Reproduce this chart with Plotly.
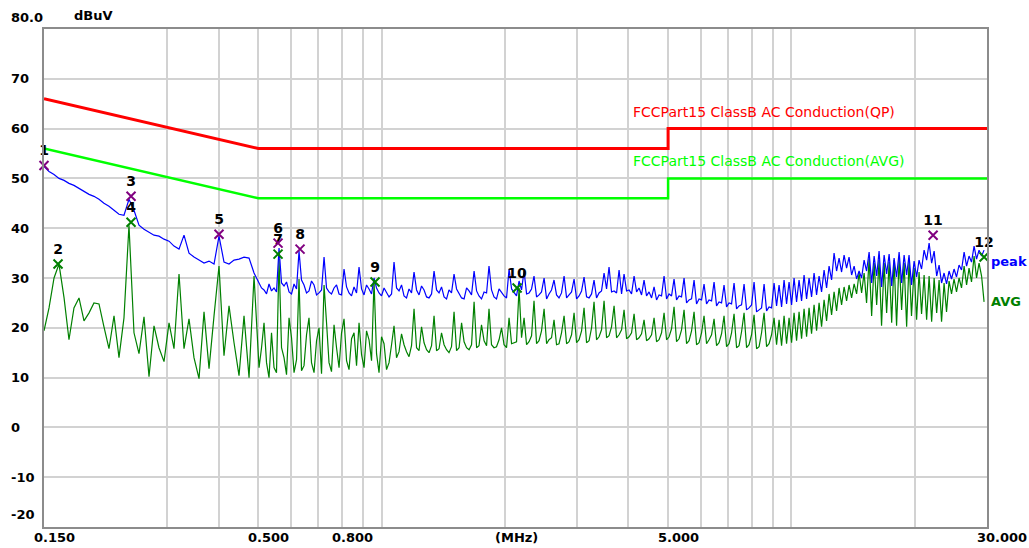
import plotly.graph_objects as go
import math

# ---------------- data ----------------
# main sweep samples (MHz) with peak / average readings (dBuV)
freq_mhz = [
    0.1500, 0.1543, 0.1587, 0.1632, 0.1679, 0.1726, 0.1775, 0.1826, 0.1878, 0.1932,
    0.1986, 0.2043, 0.2101, 0.2161, 0.2223, 0.2286, 0.2351, 0.2418, 0.2487, 0.2558,
    0.2631, 0.2706, 0.2783, 0.2862, 0.2944, 0.3028, 0.3114, 0.3203, 0.3294, 0.3388,
    0.3484, 0.3584, 0.3686, 0.3791, 0.3899, 0.4010, 0.4124, 0.4242, 0.4363, 0.4487,
    0.4615, 0.4747, 0.4882, 0.5021, 0.5164, 0.5311, 0.5462, 0.5618, 0.5778, 0.5943,
    0.6112, 0.6286, 0.6465, 0.6649, 0.6839, 0.7034, 0.7235, 0.7440, 0.7653, 0.7871,
    0.8095, 0.8326, 0.8563, 0.8807, 0.9058, 0.9316, 0.9581, 0.9854, 1.0135, 1.0424,
    1.0720, 1.1026, 1.1340, 1.1663, 1.1996, 1.2338, 1.2690, 1.3051, 1.3423, 1.3805,
    1.420, 1.460, 1.502, 1.545, 1.589, 1.634, 1.681, 1.728, 1.778, 1.828,
    1.880, 1.934, 1.989, 2.046, 2.104, 2.164, 2.226, 2.289, 2.354, 2.421,
    2.491, 2.561, 2.634, 2.709, 2.787, 2.866, 2.948, 3.032, 3.118, 3.207,
    3.298, 3.392, 3.489, 3.588, 3.691, 3.796, 3.904, 4.015, 4.130, 4.247,
    4.368, 4.493, 4.621, 4.752, 4.888, 5.027, 5.170, 5.317, 5.469, 5.625,
    5.785, 5.950, 6.119, 6.294, 6.473, 6.657, 6.847, 7.042, 7.243, 7.449,
    7.662, 7.880, 8.105, 8.336, 8.574, 8.817, 9.069, 9.327, 9.593, 9.866,
    10.147, 10.436, 10.734, 11.039, 11.354, 11.678, 12.011, 12.353, 12.705, 13.067,
    13.44, 13.82, 14.22, 14.62, 15.04, 15.47, 15.91, 16.36, 16.83, 17.31,
    17.80, 18.31, 18.83, 19.36, 19.92, 20.48, 21.07, 21.67, 22.29, 22.92,
    23.57, 24.24, 24.93, 25.64, 26.38, 27.12, 27.90, 28.69, 29.51,
]

peak_dbuv = [
    52.4, 51.4, 50.8, 50.0, 49.6, 49.0, 48.6, 48.0, 47.4, 46.8,
    46.4, 45.8, 45.0, 44.4, 43.6, 42.8, 42.6, 45.8, 43.6, 40.6,
    39.8, 39.2, 38.6, 38.4, 37.8, 37.4, 36.4, 35.8, 38.6, 35.0,
    34.2, 33.6, 33.0, 33.4, 32.8, 38.4, 33.2, 32.8, 33.6, 33.8,
    34.2, 34.0, 31.0, 29.0, 27.6, 28.8, 28.0, 36.0, 28.4, 27.2,
    28.8, 35.4, 28.6, 27.4, 28.6, 27.0, 34.2, 27.2, 28.0, 26.8,
    31.8, 27.0, 28.2, 32.2, 26.6, 27.8, 30.0, 27.0, 28.0, 26.2,
    33.2, 27.4, 26.4, 27.8, 31.2, 26.6, 27.6, 26.0, 31.4, 27.0,
    26.2, 27.6, 30.8, 26.8, 25.8, 27.4, 31.4, 26.4, 27.2, 32.4,
    26.2, 27.8, 26.4, 31.8, 27.0, 29.4, 31.4, 27.0, 30.4, 26.6,
    30.0, 26.8, 29.6, 26.0, 30.4, 26.6, 29.8, 26.4, 30.2, 26.0,
    29.6, 27.0, 31.0, 32.2, 27.4, 31.6, 30.8, 27.6, 30.4, 28.0,
    29.6, 27.2, 28.2, 26.6, 30.4, 26.8, 29.8, 26.4, 30.0, 25.6,
    29.6, 25.8, 28.8, 25.6, 29.2, 25.2, 28.6, 25.0, 29.0, 24.4,
    28.8, 24.0, 29.2, 23.6, 28.8, 24.2, 29.0, 28.6, 29.6, 29.2,
    30.0, 29.6, 30.6, 30.0, 31.0, 30.4, 31.6, 32.4, 35.0, 34.0,
    34.6, 34.2, 32.4, 31.4, 33.6, 35.2, 34.4, 35.4, 34.6, 34.8,
    34.0, 35.2, 34.6, 34.6, 33.4, 33.6, 35.6, 37.0, 35.4, 32.6,
    31.0, 31.4, 31.8, 32.6, 35.2, 34.4, 36.4, 35.6, 35.6,
]

avg_dbuv = [
    19.4, 24.0, 30.0, 32.8, 26.0, 17.6, 24.0, 26.0, 21.4, 23.0,
    25.0, 24.8, 20.2, 15.8, 22.4, 14.0, 22.0, 40.6, 19.0, 14.8,
    22.2, 10.2, 20.4, 16.0, 13.2, 21.0, 15.8, 30.8, 15.8, 21.8,
    14.0, 9.8, 23.2, 11.8, 22.4, 32.4, 14.4, 24.4, 17.0, 10.4,
    22.4, 10.0, 30.4, 12.0, 21.0, 10.0, 12.0, 33.8, 14.0, 22.0,
    11.0, 29.8, 12.4, 22.0, 11.0, 20.0, 28.6, 13.0, 20.6, 12.0,
    21.8, 11.6, 19.0, 21.0, 12.0, 17.6, 29.4, 11.0, 16.8, 13.0,
    20.4, 15.2, 16.6, 14.2, 23.8, 15.4, 17.0, 15.0, 22.4, 15.8,
    16.6, 15.0, 23.2, 16.0, 17.2, 15.6, 25.2, 16.4, 17.4, 23.8,
    16.0, 17.6, 16.6, 22.0, 17.0, 28.0, 22.0, 17.2, 25.4, 17.4,
    23.8, 17.6, 21.6, 16.8, 22.4, 17.2, 23.0, 17.6, 24.0, 17.4,
    25.2, 18.2, 25.4, 18.4, 24.4, 18.6, 23.6, 18.2, 22.8, 18.0,
    21.6, 17.8, 22.0, 17.6, 23.0, 18.2, 24.2, 17.8, 23.6, 17.4,
    23.2, 17.0, 22.4, 17.6, 21.8, 17.0, 22.4, 16.8, 22.8, 16.4,
    23.0, 16.6, 22.6, 16.2, 23.0, 16.8, 22.0, 21.6, 22.4, 22.0,
    23.0, 23.2, 23.8, 24.0, 24.6, 25.0, 25.6, 26.8, 27.2, 28.0,
    28.2, 28.6, 28.8, 31.0, 31.0, 33.8, 33.0, 33.6, 33.0, 33.2,
    33.6, 33.8, 33.0, 33.4, 32.0, 31.2, 30.6, 30.4, 30.0, 29.6,
    29.0, 29.4, 29.8, 30.0, 32.4, 32.0, 34.4, 33.0, 25.2,
]

# extra in-between sweep samples (0.5 - 30 MHz)
freq_mid_mhz = [
    0.5092, 0.5237, 0.5386, 0.5539, 0.5698, 0.5860, 0.6027, 0.6199, 0.6375, 0.6557,
    0.6743, 0.6936, 0.7134, 0.7337, 0.7545, 0.7761, 0.7982, 0.8210, 0.8444, 0.8684,
    0.8932, 0.9186, 0.9448, 0.9717, 0.9993, 1.0279, 1.0572, 1.0872, 1.1182, 1.1501,
    1.1828, 1.2166, 1.2513, 1.2870, 1.3236, 1.3613, 1.4000, 1.4401, 1.4807, 1.5233,
    1.5669, 1.6115, 1.6571, 1.7048, 1.7525, 1.8032, 1.8539, 1.9066, 1.9614, 2.0172,
    2.0750, 2.1338, 2.1947, 2.2575, 2.3215, 2.3878, 2.4553, 2.5263, 2.5973, 2.6713,
    2.7474, 2.8265, 2.9066, 2.9897, 3.0749, 3.1622, 3.2524, 3.3447, 3.4400, 3.5384,
    3.6388, 3.7433, 3.8498, 3.9593, 4.0719, 4.1885, 4.3071, 4.4298, 4.5565, 4.6862,
    4.8193, 4.9572, 5.0982, 5.2432, 5.3923, 5.5464, 5.7046, 5.8668, 6.0342, 6.2056,
    6.3831, 6.5646, 6.7513, 6.9440, 7.1418, 7.3456, 7.5546, 7.7705, 7.9919, 8.2198,
    8.4535, 8.6952, 8.9419,
    9.197, 9.459, 9.729, 10.006, 10.291, 10.584, 10.886, 11.195, 11.515, 11.843,
    12.181, 12.528, 12.885, 13.252, 13.63, 14.02, 14.42, 14.83, 15.25, 15.69,
    16.14, 16.59, 17.07, 17.56, 18.05, 18.57, 19.10, 19.63, 20.20, 20.77,
    21.37, 21.98, 22.61, 23.24, 23.90, 24.58, 25.28, 26.00, 26.75, 27.50,
    28.29, 29.10,
]

peak_mid_dbuv = [
    28.0, 26.8, 27.4, 27.2, 29.0, 29.2, 26.8, 27.8, 29.6, 27.0,
    29.4, 26.6, 27.6, 28.0, 26.8, 28.6, 26.6, 28.2, 26.4, 27.0,
    27.8, 28.6, 26.8, 28.0, 26.4, 27.2, 26.8, 28.0, 28.6, 26.0,
    27.0, 27.6, 28.4, 26.2, 26.8, 27.6, 28.2, 25.8, 27.0, 27.8,
    26.0, 28.0, 26.6, 27.4, 25.8, 27.0, 27.6, 25.8, 27.0, 26.0,
    27.8, 26.4, 27.6, 26.8, 27.8, 26.2, 27.2, 25.8, 27.6, 26.6,
    27.0, 26.0, 27.2, 25.8, 27.4, 26.2, 26.8, 26.0, 27.4, 27.8,
    27.2, 27.0, 26.8, 27.4, 26.8, 27.2, 26.6, 26.4, 26.0, 25.6,
    26.4, 25.8, 26.4, 25.6, 26.2, 25.0, 25.8, 24.8, 25.6, 24.8,
    25.4, 24.4, 25.0, 24.2, 24.8, 23.8, 24.6, 23.6, 24.6, 23.2,
    24.0, 23.4, 24.0,
    24.4, 24.2, 24.8, 24.6, 25.2, 25.4, 25.8, 26.2, 26.6, 27.2,
    28.0, 29.6, 31.4, 31.2, 32.0, 30.6, 29.8, 30.0, 31.4, 29.0,
    30.4, 28.2, 30.8, 28.4, 30.2, 29.0, 30.6, 28.6, 30.2, 31.8,
    33.6, 33.0, 30.4, 29.0, 28.8, 29.8, 30.2, 31.6, 32.4, 33.2,
    33.8, 34.4,
]

avg_mid_dbuv = [
    16.0, 13.0, 19.0, 11.0, 16.0, 10.6, 18.0, 13.6, 11.4, 18.6,
    13.0, 17.4, 10.8, 21.0, 11.2, 16.0, 19.0, 13.4, 17.8, 12.4,
    14.6, 19.4, 13.4, 14.8, 18.2, 11.6, 16.6, 14.0, 18.8, 15.2,
    16.4, 16.0, 20.2, 15.6, 16.4, 15.4, 19.0, 15.6, 16.2, 15.4,
    21.0, 16.0, 16.6, 16.0, 20.6, 16.4, 16.6, 16.2, 20.0, 16.0,
    16.8, 17.2, 18.0, 16.6, 18.4, 16.8, 19.4, 16.8, 18.0, 16.6,
    19.0, 16.8, 18.6, 17.0, 19.4, 17.0, 20.0, 17.6, 19.6, 18.0,
    20.2, 18.0, 19.6, 17.8, 19.0, 17.6, 18.8, 17.4, 18.6, 17.2,
    19.0, 17.6, 19.8, 17.2, 19.6, 16.8, 19.4, 16.6, 19.0, 16.8,
    18.6, 16.4, 18.8, 16.2, 19.0, 16.0, 19.2, 16.0, 18.6, 15.8,
    19.0, 16.2, 18.6,
    16.6, 16.4, 16.8, 17.0, 17.4, 17.8, 18.2, 18.8, 19.4, 20.2,
    21.4, 22.6, 23.4, 24.6, 25.4, 26.0, 26.8, 27.0, 25.0, 22.4,
    24.6, 20.4, 23.0, 21.0, 20.4, 23.6, 20.2, 22.4, 21.6, 22.8,
    21.6, 21.2, 23.0, 21.2, 23.2, 26.8, 27.2, 28.0, 28.6, 29.2,
    30.0, 30.4,
]

# limit lines
qp_limit_f = [0.15, 0.5, 5.0, 5.0, 30.0]
qp_limit_v = [66, 56, 56, 60, 60]
avg_limit_f = [0.15, 0.5, 5.0, 5.0, 30.0]
avg_limit_v = [56, 46, 46, 50, 50]

# marked points
peak_mark_no = ["1", "3", "5", "6", "8", "11"]
peak_mark_f = [0.150, 0.2446, 0.4010, 0.5587, 0.6322, 22.16]
peak_mark_v = [52.6, 46.4, 38.8, 37.0, 35.8, 38.6]
avg_mark_no = ["2", "4", "7", "9", "10", "12"]
avg_mark_f = [0.1623, 0.2446, 0.5587, 0.9635, 2.140, 29.51]
avg_mark_v = [32.8, 41.2, 34.8, 29.2, 28.0, 34.2]

# axes
grid_f = [0.3, 0.4, 0.5, 0.6, 0.7, 0.8, 0.9, 1, 2, 3, 4, 5, 6, 7, 8, 9, 10, 20]
x_label_f = [0.15, 0.5, 0.8, 5.0, 30.0]
x_label_t = ["0.150", "0.500", "0.800", "5.000", "30.000"]
y_ticks = [80, 70, 60, 50, 40, 30, 20, 10, 0, -10, -20]
y_tick_t = ["80.0", "70", "60", "50", "40", "30", "20", "10", "0", "-10", "-20"]

# merge the two sample sets in frequency order
samples = sorted(zip(freq_mhz + freq_mid_mhz,
                     peak_dbuv + peak_mid_dbuv,
                     avg_dbuv + avg_mid_dbuv))
sweep_f = [s[0] for s in samples]
sweep_peak = [s[1] for s in samples]
sweep_avg = [s[2] for s in samples]

FONT = "DejaVu Sans"

fig = go.Figure()
fig.add_trace(go.Scatter(x=qp_limit_f, y=qp_limit_v, mode="lines",
                         line=dict(color="#ff0000", width=3), hoverinfo="skip"))
fig.add_trace(go.Scatter(x=avg_limit_f, y=avg_limit_v, mode="lines",
                         line=dict(color="#00ff00", width=2.5), hoverinfo="skip"))
fig.add_trace(go.Scatter(x=sweep_f, y=sweep_avg, mode="lines",
                         line=dict(color="#008000", width=1.2)))
fig.add_trace(go.Scatter(x=sweep_f, y=sweep_peak, mode="lines",
                         line=dict(color="#0000ff", width=1.2)))
fig.add_trace(go.Scatter(x=avg_mark_f, y=avg_mark_v, mode="markers+text",
                         text=avg_mark_no, textposition="top center",
                         textfont=dict(family=FONT, size=14, color="black", weight="bold"),
                         marker=dict(symbol="x-thin", size=9,
                                     line=dict(color="#008000", width=2)),
                         cliponaxis=False))
fig.add_trace(go.Scatter(x=peak_mark_f, y=peak_mark_v, mode="markers+text",
                         text=peak_mark_no, textposition="top center",
                         textfont=dict(family=FONT, size=14, color="black", weight="bold"),
                         marker=dict(symbol="x-thin", size=9,
                                     line=dict(color="#800080", width=2)),
                         cliponaxis=False))

L, R, T, B = 44, 42, 29, 21
W, H = 1029, 548
PW, PH = W - L - R, H - T - B

def px_x(px):
    return (px - L) / PW

def px_y(py):
    return (H - B - py) / PH

ann = []
for v, t in zip(y_ticks, y_tick_t):
    shift = 0
    if v == 80:
        shift = 12
    if v == -20:
        shift = 13
    ann.append(dict(x=px_x(9), xref="paper", y=v, yref="y", text=t, showarrow=False,
                    xanchor="left", yanchor="middle", yshift=shift,
                    font=dict(family=FONT, size=13, color="black", weight="bold")))
for f, t in zip(x_label_f, x_label_t):
    ann.append(dict(x=math.log10(f), xref="x", y=0, yref="paper", text=t, showarrow=False,
                    xanchor="left", yanchor="top", xshift=-12, yshift=-1,
                    font=dict(family=FONT, size=13, color="black", weight="bold")))
ann.append(dict(x=px_x(493), xref="paper", y=0, yref="paper", text="(MHz)", showarrow=False,
                xanchor="left", yanchor="top", yshift=-1,
                font=dict(family=FONT, size=13, color="black", weight="bold")))
ann.append(dict(x=px_x(72), xref="paper", y=px_y(15), yref="paper", text="dBuV", showarrow=False,
                xanchor="left", yanchor="middle",
                font=dict(family=FONT, size=13, color="black", weight="bold")))
ann.append(dict(x=px_x(631), xref="paper", y=px_y(112), yref="paper",
                text="FCCPart15 ClassB AC Conduction(QP)", showarrow=False,
                xanchor="left", yanchor="middle",
                font=dict(family=FONT, size=14, color="#ff0000")))
ann.append(dict(x=px_x(631), xref="paper", y=px_y(161), yref="paper",
                text="FCCPart15 ClassB AC Conduction(AVG)", showarrow=False,
                xanchor="left", yanchor="middle",
                font=dict(family=FONT, size=14, color="#00ff00")))
ann.append(dict(x=px_x(989), xref="paper", y=px_y(261), yref="paper", text="peak",
                showarrow=False, xanchor="left", yanchor="middle",
                font=dict(family=FONT, size=13, color="#0000ff", weight="bold")))
ann.append(dict(x=px_x(989), xref="paper", y=px_y(301), yref="paper", text="AVG",
                showarrow=False, xanchor="left", yanchor="middle",
                font=dict(family=FONT, size=13, color="#008000", weight="bold")))

fig.update_layout(
    width=W, height=H,
    margin=dict(l=L, r=R, t=T, b=B, pad=0),
    paper_bgcolor="white", plot_bgcolor="white",
    showlegend=False,
    font=dict(family=FONT, size=13, color="black"),
    annotations=ann,
    xaxis=dict(type="log", range=[math.log10(0.15), math.log10(30)],
               tickmode="array", tickvals=grid_f, showticklabels=False, ticks="",
               showgrid=True, gridcolor="#d2d2d2", gridwidth=1.5,
               showline=True, linecolor="#8c8c8c", linewidth=2, mirror=True,
               zeroline=False),
    yaxis=dict(range=[-20, 80], tickmode="array", tickvals=y_ticks,
               showticklabels=False, ticks="",
               showgrid=True, gridcolor="#d2d2d2", gridwidth=1.5,
               showline=True, linecolor="#8c8c8c", linewidth=2, mirror=True,
               zeroline=False),
)

fig.write_html("out.html", config={"displayModeBar": False},
               post_script="document.body.style.margin='0';document.body.style.overflow='hidden';")
